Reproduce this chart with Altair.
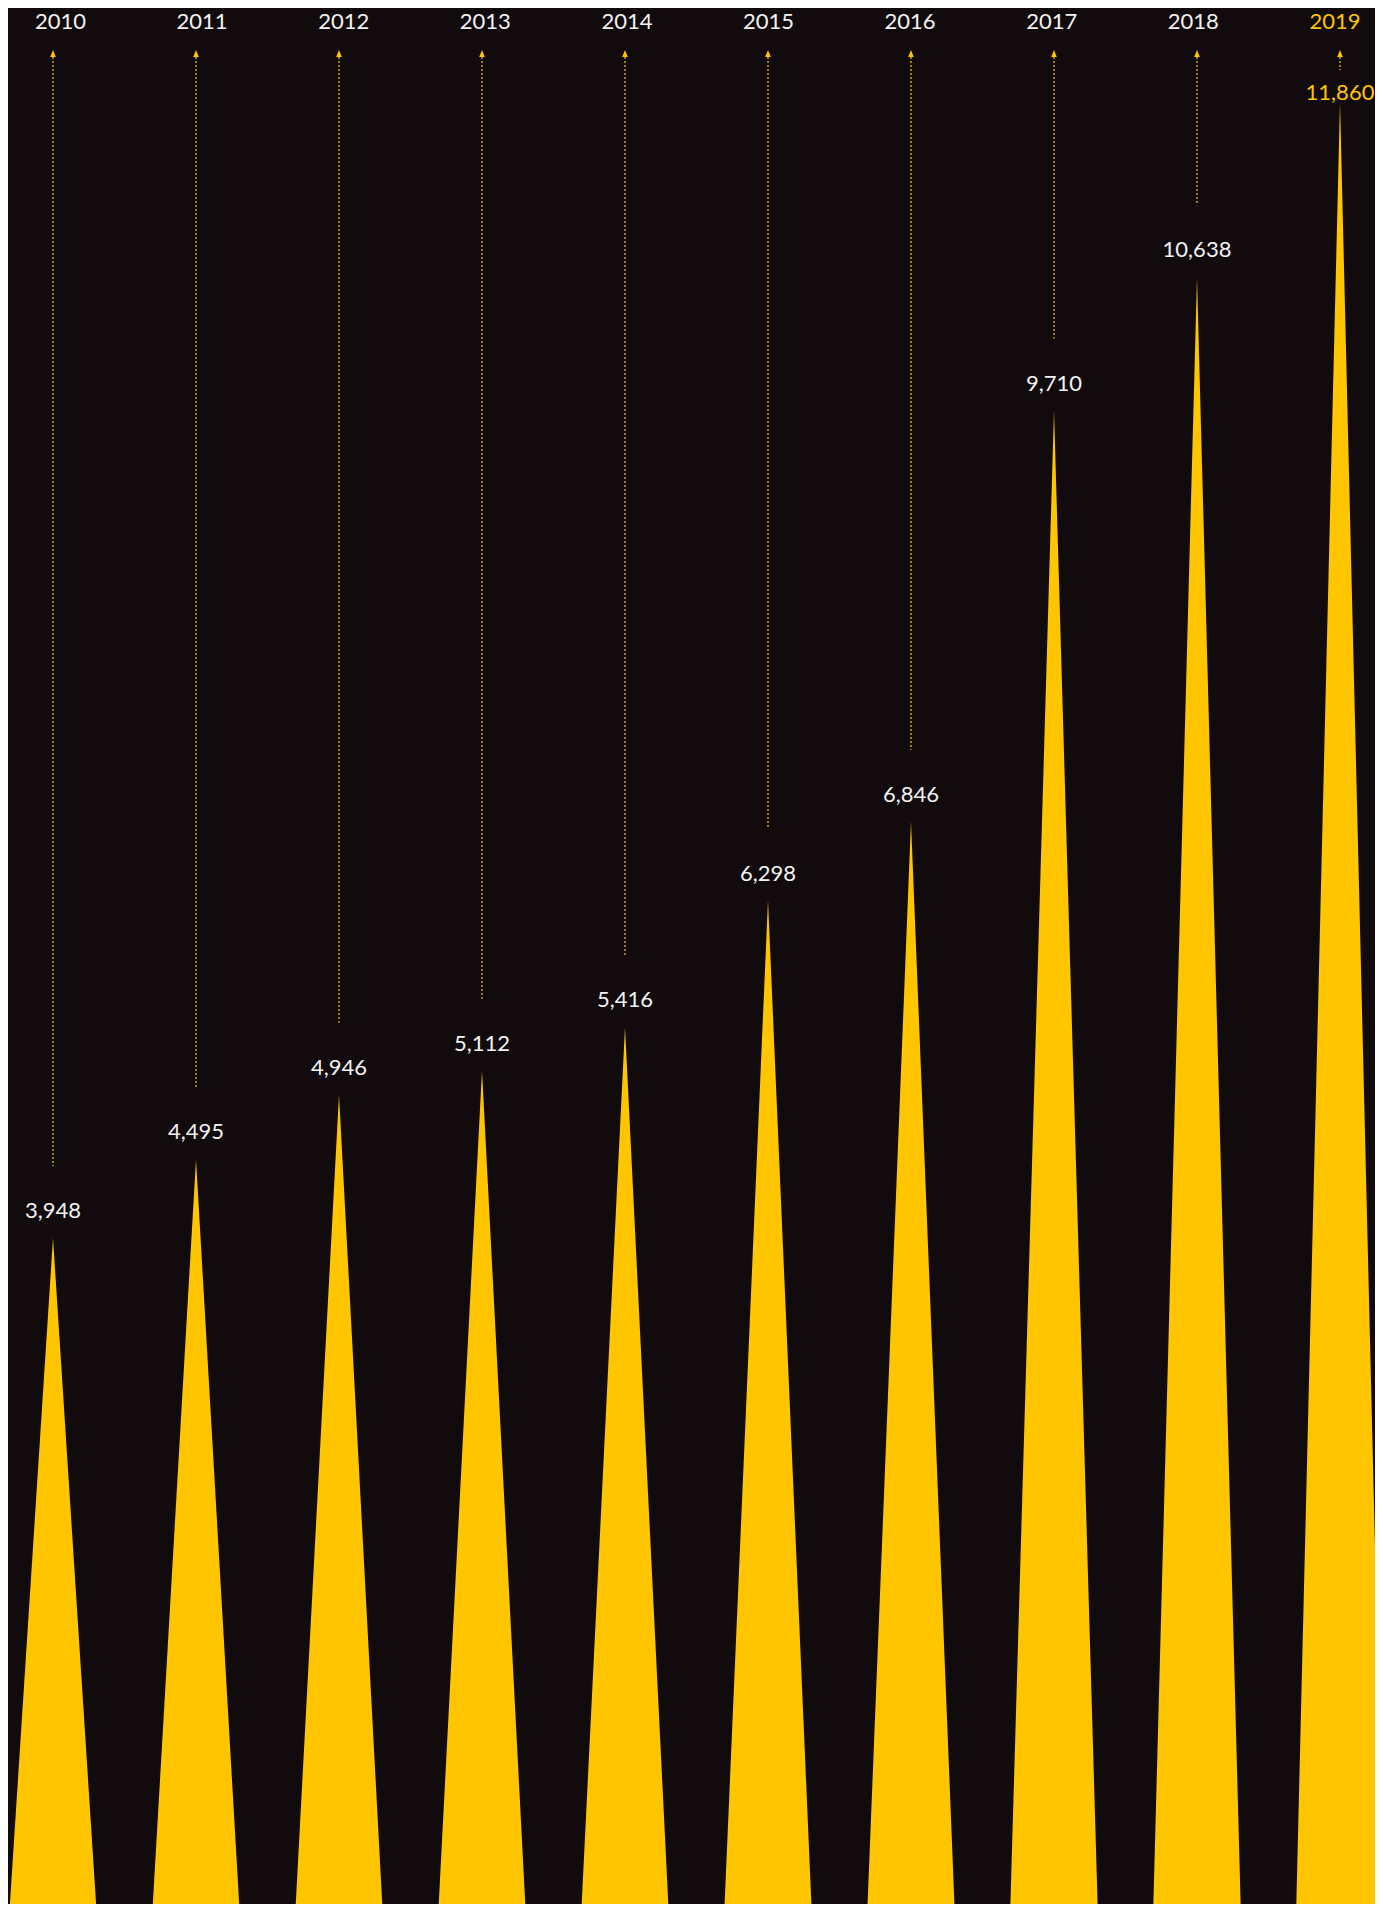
import altair as alt
import pandas as pd

years = ["2010", "2011", "2012", "2013", "2014", "2015", "2016", "2017", "2018", "2019"]
values = [3948, 4495, 4946, 5112, 5416, 6298, 6846, 9710, 10638, 11860]

BG = "#120b0e"
YELLOW = "#ffc600"
WHITE = "#f2f2f2"
FONT = "Lato"

HALF = 0.3077      # half base width of each spike, in slot units
BASE = -788        # value at which spikes reach the bottom edge
TOP = 12172        # value where the dotted guide starts (under the arrow)

W, H = 1367, 1896

rows = []
for i, (yr, v) in enumerate(zip(years, values)):
    rows.append({"year": yr, "i": i, "pos": i - HALF, "val": BASE, "b": BASE})
    rows.append({"year": yr, "i": i, "pos": i, "val": v, "b": BASE})
    rows.append({"year": yr, "i": i, "pos": i + HALF, "val": BASE, "b": BASE})
tri = pd.DataFrame(rows)

pts = pd.DataFrame({"year": years, "i": list(range(len(years))), "val": values})

xs = alt.Scale(domain=[-0.3147, 9.2448], nice=False, zero=False)
xs_lab = alt.Scale(domain=[-0.3708, 9.2832], nice=False, zero=False)
ys = alt.Scale(domain=[-690.1, 12513.2], nice=False, zero=False)

X = alt.X("pos:Q", scale=xs, axis=None)
Xi = alt.X("i:Q", scale=xs, axis=None)
Y = alt.Y("val:Q", scale=ys, axis=None)

spikes = alt.Chart(tri).mark_area(color=YELLOW, opacity=1).encode(
    x=X, y=Y, y2="b:Q", detail="year:N"
)

base = alt.Chart(pts)

guides = base.transform_calculate(
    top=f"{TOP}",
    lineEnd="min(datum.val + 501, 12081)"
).mark_rule(color=YELLOW, opacity=0.8, strokeWidth=1.5, strokeDash=[2, 2]).encode(
    x=Xi, y=alt.Y("top:Q", scale=ys, axis=None), y2="lineEnd:Q"
)

arrows = base.mark_point(
    shape="M0,-1L0.8,1L-0.8,1Z", filled=True, color=YELLOW, opacity=1, size=49
).encode(x=Xi, y=alt.value(45.5))

lab_color = alt.condition(alt.datum.year == "2019", alt.value(YELLOW), alt.value(WHITE))

value_labels = base.transform_calculate(
    labPos="min(datum.val, 11735)"
).mark_text(
    font=FONT, fontSize=22, baseline="middle", align="center", dy=-27
).encode(x=Xi, y=alt.Y("labPos:Q", scale=ys, axis=None),
         text=alt.Text("val:Q", format=","), color=lab_color)

year_labels = base.mark_text(
    font=FONT, fontSize=22, baseline="middle", align="center"
).encode(x=alt.X("i:Q", scale=xs_lab, axis=None), y=alt.value(13.5),
         text="year:N", color=lab_color)

chart = alt.layer(spikes, guides, arrows, value_labels, year_labels).resolve_scale(
    x="independent"
).properties(
    width=W, height=H, background=BG, padding=0,
    autosize=alt.AutoSizeParams(type="none")
).configure_view(stroke=None, fill=BG)

chart.save("out.html", embed_options={"renderer": "svg", "actions": False})
